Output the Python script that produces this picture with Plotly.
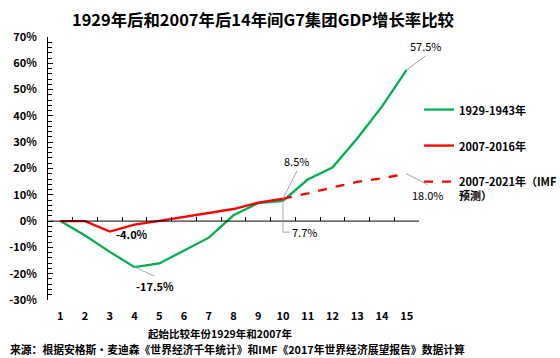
import plotly.graph_objects as go

years = list(range(1, 16))
g1929 = [0, -5.5, -11.7, -17.5, -16.1, -11.3, -6.3, 2.2, 6.8, 7.7, 15.8, 20.4, 31.4, 43.5, 57.5]
r2007 = [0, 0, -4.0, -1.3, 0.1, 1.6, 2.9, 4.6, 7.0, 8.5]
r2021_x = list(range(10, 16))
r2021 = [8.5, 10.5, 12.8, 14.9, 16.3, 18.0]
ytick_vals = list(range(-30, 71, 10))

GREEN = "#00B050"
RED = "#FF0000"
GRAY = "#A6A6A6"
FONT = "Noto Sans CJK SC"

W, H = 560, 358
ML, MR, MT, MB = 48, 141, 37, 58
PW, PH = W - ML - MR, H - MT - MB

fig = go.Figure()
fig.add_trace(go.Scatter(x=years, y=g1929, mode="lines", name="<b>1929-1943年</b>",
                         line=dict(color=GREEN, width=2.3), legendgroup="a"))
fig.add_trace(go.Scatter(x=years[:len(r2007)], y=r2007, mode="lines", name="<b>2007-2016年</b>",
                         line=dict(color=RED, width=2.3), legendgroup="b"))
fig.add_trace(go.Scatter(x=r2021_x, y=r2021, mode="lines", name="<b>2007-2021年（IMF<br>预测）</b>",
                         line=dict(color=RED, width=2.3, dash="dash"), legendgroup="c"))

# axis line at y=0 with boundary ticks (overlay axis)
fig.add_trace(go.Scatter(x=[0.5, 15.5], y=[0, 0], mode="lines", xaxis="x2",
                         line=dict(color="black", width=1), showlegend=False, hoverinfo="skip"))

ann = []
lab = dict(font=dict(family=FONT, size=11, color="black"), showarrow=True, arrowhead=0,
           arrowcolor=GRAY, arrowwidth=1)
ann.append(dict(x=15, y=g1929[14], text="57.5%", ax=19, ay=-14, xanchor="center", yanchor="bottom", **lab))
ann.append(dict(x=15, y=r2021[-1], text="18.0%", ax=21, ay=11, xanchor="center", yanchor="top", **lab))
ann.append(dict(x=10, y=r2007[-1], text="8.5%", ax=14, ay=-28, xanchor="center", yanchor="bottom", **lab))
ann.append(dict(x=4, y=g1929[3], text="<b>-17.5%</b>", ax=20, ay=9, xanchor="center", yanchor="top", **lab))
ann.append(dict(x=3, y=r2007[2], text="<b>-4.0%</b>", showarrow=False, xanchor="left", yanchor="middle",
                xshift=4, yshift=-2, font=dict(family=FONT, size=11, color="black")))
ann.append(dict(x=10.3, y=-4.2, text="7.7%", showarrow=False, xanchor="left", yanchor="middle",
                font=dict(family=FONT, size=11, color="black")))

# x-axis title and source note
ann.append(dict(text="<b>起始比较年份1929年和2007年</b>", xref="paper", yref="paper",
                x=(220 - ML) / PW, y=(H - MB - 333) / PH, xanchor="center", yanchor="middle",
                showarrow=False, font=dict(size=10.5, family=FONT)))
ann.append(dict(text="<b>来源：根据安格斯·麦迪森《世界经济千年统计》和IMF《2017年世界经济展望报告》数据计算</b>",
                xref="paper", yref="paper", x=(8 - ML) / PW, y=(H - MB - 349) / PH,
                xanchor="left", yanchor="middle", showarrow=False, font=dict(size=10.8, family=FONT)))

shapes = [dict(type="path", xref="x", yref="y",
               path=f"M 10,{g1929[9]} L 10,-4.2 L 10.27,-4.2",
               line=dict(color=GRAY, width=1))]

fig.update_layout(
    width=W, height=H,
    margin=dict(l=ML, r=MR, t=MT, b=MB, autoexpand=False),
    paper_bgcolor="white", plot_bgcolor="white",
    font=dict(family=FONT, size=11, color="black"),
    title=dict(text="<b>1929年后和2007年后14年间G7集团GDP增长率比较</b>", x=263 / W, xanchor="center",
               y=0.944, yanchor="middle", font=dict(size=16.4, family=FONT)),
    xaxis=dict(range=[0.5, 15.5], tickvals=years, ticktext=[f"<b>{v}</b>" for v in years],
               showline=False, showgrid=False, zeroline=False, ticks="", ticklabelstandoff=8),
    xaxis2=dict(range=[0.5, 15.5], overlaying="x", anchor="free", position=0.3, side="bottom",
                tick0=0.5, dtick=1, ticks="inside", ticklen=4, tickcolor="black",
                showticklabels=False, showline=False, showgrid=False, zeroline=False),
    yaxis=dict(range=[-30, 70], tickvals=ytick_vals, ticktext=[f"<b>{v}%</b>" for v in ytick_vals],
               showline=True, linecolor="black", linewidth=1, ticks="inside", ticklen=5,
               tickcolor="black", showgrid=False, zeroline=False, ticklabelstandoff=8,
               minor=dict(ticks="inside", ticklen=4, dtick=2, tickcolor="black")),
    legend=dict(x=1.0, y=0.776, xanchor="left", yanchor="top", tracegroupgap=17, valign="top",
                font=dict(size=11, family=FONT), bgcolor="rgba(0,0,0,0)", itemwidth=30),
    annotations=ann,
    shapes=shapes,
)
fig.write_html("out.html", config={"displayModeBar": False},
               post_script="document.body.style.margin='0';")
